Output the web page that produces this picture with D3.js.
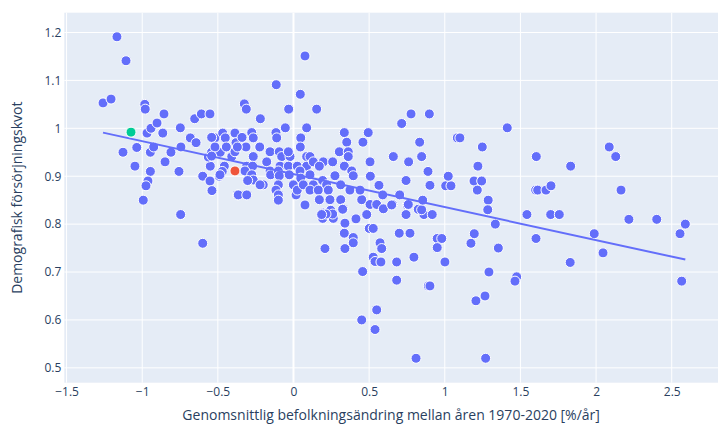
<!DOCTYPE html>
<html>
<head>
<meta charset="utf-8">
<script src="https://cdn.jsdelivr.net/npm/d3@7"></script>
<style>
  html, body { margin: 0; padding: 0; background: #fff; }
  svg { display: block; font-family: "Open Sans", verdana, arial, sans-serif; }
</style>
</head>
<body>
<svg id="chart" width="720" height="424"></svg>
<script>
// Municipality values: x = average population change 1970-2020 [%/yr], y = demographic dependency ratio
const pointsX = [
  -1.259,-1.206,-1.167,-1.107,-1.127,-1.036,-1.048,-0.983,-0.980,-0.968,-0.942,-0.902,-0.856,-0.864,-0.946,-0.924,-0.810,-0.849,-0.748,-0.744,
  -0.757,-0.946,-0.962,-0.975,-0.993,-0.746,-0.600,-0.682,-0.644,-0.653,-0.609,-0.552,-0.600,-0.552,-0.539,-0.550,-0.563,-0.541,-0.519,-0.490,
  -0.484,-0.468,-0.451,-0.457,-0.444,-0.471,-0.408,-0.387,-0.380,-0.387,-0.369,
  0.076,-0.114,0.045,-0.325,-0.312,-0.032,0.153,-0.219,-0.054,0.087,0.715,0.777,0.898,0.336,0.494,0.048,0.352,0.459,0.834,0.045,
  0.660,0.847,0.761,0.889,0.506,0.508,0.744,0.565,0.902,0.702,0.590,
  -0.340,-0.276,-0.266,-0.223,-0.116,-0.111,-0.541,-0.519,-0.314,-0.541,-0.266,-0.155,-0.094,-0.078,-0.023,-0.034,0.087,-0.309,-0.270,-0.177,
  -0.089,-0.034,0.025,0.087,-0.486,-0.321,-0.276,-0.266,-0.155,-0.151,-0.100,-0.094,-0.028,0.043,0.048,-0.200,-0.221,-0.100,-0.116,-0.100,
  -0.001,0.017,0.025,-0.365,-0.309,0.076,
  0.303,0.362,0.362,0.109,0.131,0.197,0.259,0.171,0.336,0.385,0.395,0.274,0.109,0.065,0.131,0.193,0.219,0.312,0.373,0.109,
  0.164,0.230,0.171,0.241,0.312,0.451,0.506,0.550,0.594,0.656,0.329,0.197,0.246,
  0.208,0.340,0.336,0.395,0.395,0.340,0.413,0.501,0.527,0.484,0.193,0.263,0.259,0.215,0.325,0.649,0.752,0.744,0.825,0.862,
  0.917,0.699,0.770,0.572,0.583,0.527,0.539,0.578,0.682,0.796,0.950,0.980,0.950,1.001,0.457,0.682,
  0.451,0.550,0.539,0.810,0.891,0.902,
  1.006,1.041,1.193,1.244,1.215,1.287,1.284,1.334,1.195,1.173,1.354,1.292,1.475,1.464,1.266,1.206,1.270,1.543,1.603,1.700,
  1.757,1.601,1.614,1.669,1.702,2.165,2.217,2.401,1.988,2.046,1.829,2.555,2.590,2.566,0.847,0.854,
  1.413,1.083,1.100,1.248,1.605,2.087,2.130,1.832,1.219,1.023,
  0.759,-0.100,0.186,-0.371,-0.303,0.440
];
const pointsY = [
  1.053,1.061,1.191,1.141,0.950,0.960,0.921,1.050,1.040,0.990,1.000,1.011,1.030,0.990,0.950,0.961,0.950,0.930,1.001,0.961,
  0.910,0.910,0.890,0.880,0.850,0.820,0.760,0.980,0.970,1.020,1.030,1.030,0.900,0.890,0.870,0.921,0.940,0.950,0.980,0.900,
  0.950,0.990,0.980,0.921,0.961,0.910,0.941,0.990,0.970,0.951,0.861,
  1.151,1.091,1.071,1.051,1.040,1.040,1.040,1.020,1.001,1.001,1.010,1.030,1.030,0.991,0.991,0.980,0.971,0.971,0.971,0.961,
  0.941,0.941,0.930,0.910,0.930,0.900,0.891,0.881,0.881,0.861,0.861,
  0.981,0.991,0.980,0.961,0.991,0.980,0.981,0.961,0.961,0.942,0.941,0.951,0.951,0.941,0.941,0.951,0.941,0.921,0.921,0.930,
  0.921,0.921,0.921,0.921,0.903,0.911,0.903,0.892,0.911,0.903,0.911,0.901,0.903,0.911,0.896,0.882,0.882,0.882,0.871,0.861,
  0.882,0.861,0.871,0.861,0.861,0.840,
  0.951,0.951,0.941,0.941,0.930,0.930,0.930,0.921,0.921,0.911,0.901,0.901,0.903,0.882,0.882,0.891,0.882,0.882,0.871,0.871,
  0.871,0.871,0.851,0.851,0.851,0.851,0.841,0.841,0.832,0.841,0.832,0.823,0.829,
  0.749,0.749,0.781,0.772,0.761,0.802,0.811,0.791,0.791,0.820,0.812,0.812,0.821,0.821,0.831,0.840,0.840,0.820,0.831,0.820,
  0.820,0.781,0.781,0.761,0.749,0.731,0.722,0.721,0.721,0.731,0.770,0.770,0.751,0.721,0.701,0.683,
  0.600,0.621,0.580,0.520,0.671,0.671,
  0.880,0.880,0.890,0.890,0.871,0.850,0.830,0.800,0.780,0.760,0.750,0.700,0.690,0.681,0.650,0.640,0.520,0.820,0.770,0.820,
  0.820,0.871,0.871,0.871,0.880,0.871,0.810,0.810,0.780,0.740,0.720,0.780,0.800,0.681,0.830,0.850,
  1.001,0.980,0.980,0.961,0.941,0.961,0.941,0.921,0.921,0.900,
  0.841,0.850,0.820,0.961,0.891,0.871
];
// Highlighted municipalities
const greenX = [-1.074], greenY = [0.992];
const redX = [-0.387], redY = [0.911];
// Trend line (OLS) end points
const trendX = [-1.259, 2.590];
const trendY = [0.991, 0.726];
// Axis ticks
const xTicks = [-1.5, -1, -0.5, 0, 0.5, 1, 1.5, 2, 2.5];
const yTicks = [0.5, 0.6, 0.7, 0.8, 0.9, 1.0, 1.1, 1.2];
const xTitle = "Genomsnittlig befolkningsändring mellan åren 1970-2020 [%/år]";
const yTitle = "Demografisk försörjningskvot";

const svg = d3.select("#chart");
const L = 64.3, R = 718, T = 12.7, B = 382.7;
const x = d3.scaleLinear().domain([-1.515, 2.806]).range([L, R]);
const y = d3.scaleLinear().domain([0.4690, 1.2413]).range([B, T]);
const textColor = "#2a3f5f";
const fmt = v => (v < 0 ? "\u2212" : "") + String(Math.abs(v));

svg.append("rect").attr("x", L).attr("y", T).attr("width", R - L).attr("height", B - T).attr("fill", "#E5ECF6");

const grid = svg.append("g");
grid.selectAll("line.v").data(xTicks).join("line")
  .attr("x1", d => x(d)).attr("x2", d => x(d)).attr("y1", T).attr("y2", B)
  .attr("stroke", "#fff").attr("stroke-width", d => d === 0 ? 2 : 1);
grid.selectAll("line.h").data(yTicks).join("line")
  .attr("x1", L).attr("x2", R).attr("y1", d => y(d)).attr("y2", d => y(d))
  .attr("stroke", "#fff").attr("stroke-width", 1);

// Axes via d3 axis generators (domain lines/ticks hidden)
const xAxis = svg.append("g").attr("transform", `translate(0,${B})`)
  .call(d3.axisBottom(x).tickValues(xTicks).tickFormat(fmt).tickSize(0).tickPadding(5));
const yAxis = svg.append("g").attr("transform", `translate(${L},0)`)
  .call(d3.axisLeft(y).tickValues(yTicks).tickFormat(d => String(+d.toFixed(1))).tickSize(0).tickPadding(3));
[xAxis, yAxis].forEach(a => {
  a.select(".domain").remove();
  a.selectAll("text").attr("fill", textColor).style("font-size", "12px")
    .style("font-family", '"Open Sans", verdana, arial, sans-serif');
});

const pts = pointsX.map((v, i) => [v, pointsY[i]]);
const clip = svg.append("clipPath").attr("id", "clip").append("rect")
  .attr("x", L).attr("y", T).attr("width", R - L).attr("height", B - T);
const plot = svg.append("g").attr("clip-path", "url(#clip)");

plot.selectAll("circle.pt").data(pts).join("circle").attr("class", "pt")
  .attr("cx", d => x(d[0])).attr("cy", d => y(d[1])).attr("r", 5)
  .attr("fill", "#636EFA").attr("stroke", "#fff").attr("stroke-width", 1);

const line = d3.line().x(d => x(d[0])).y(d => y(d[1]));
plot.append("path").datum(trendX.map((v, i) => [v, trendY[i]]))
  .attr("d", line).attr("fill", "none").attr("stroke", "#636EFA").attr("stroke-width", 2);

plot.selectAll("circle.g").data(greenX.map((v, i) => [v, greenY[i]])).join("circle").attr("class", "g")
  .attr("cx", d => x(d[0])).attr("cy", d => y(d[1])).attr("r", 5)
  .attr("fill", "#00CC96").attr("stroke", "#fff").attr("stroke-width", 1);
plot.selectAll("circle.r").data(redX.map((v, i) => [v, redY[i]])).join("circle").attr("class", "r")
  .attr("cx", d => x(d[0])).attr("cy", d => y(d[1])).attr("r", 5)
  .attr("fill", "#EF553B").attr("stroke", "#fff").attr("stroke-width", 1);

svg.append("text").attr("x", (L + R) / 2).attr("y", 420).attr("text-anchor", "middle")
  .attr("fill", textColor).style("font-size", "14px").text(xTitle);
svg.append("text").attr("transform", `translate(21.5,${(T + B) / 2}) rotate(-90)`).attr("text-anchor", "middle")
  .attr("fill", textColor).style("font-size", "14px").text(yTitle);
</script>
</body>
</html>
